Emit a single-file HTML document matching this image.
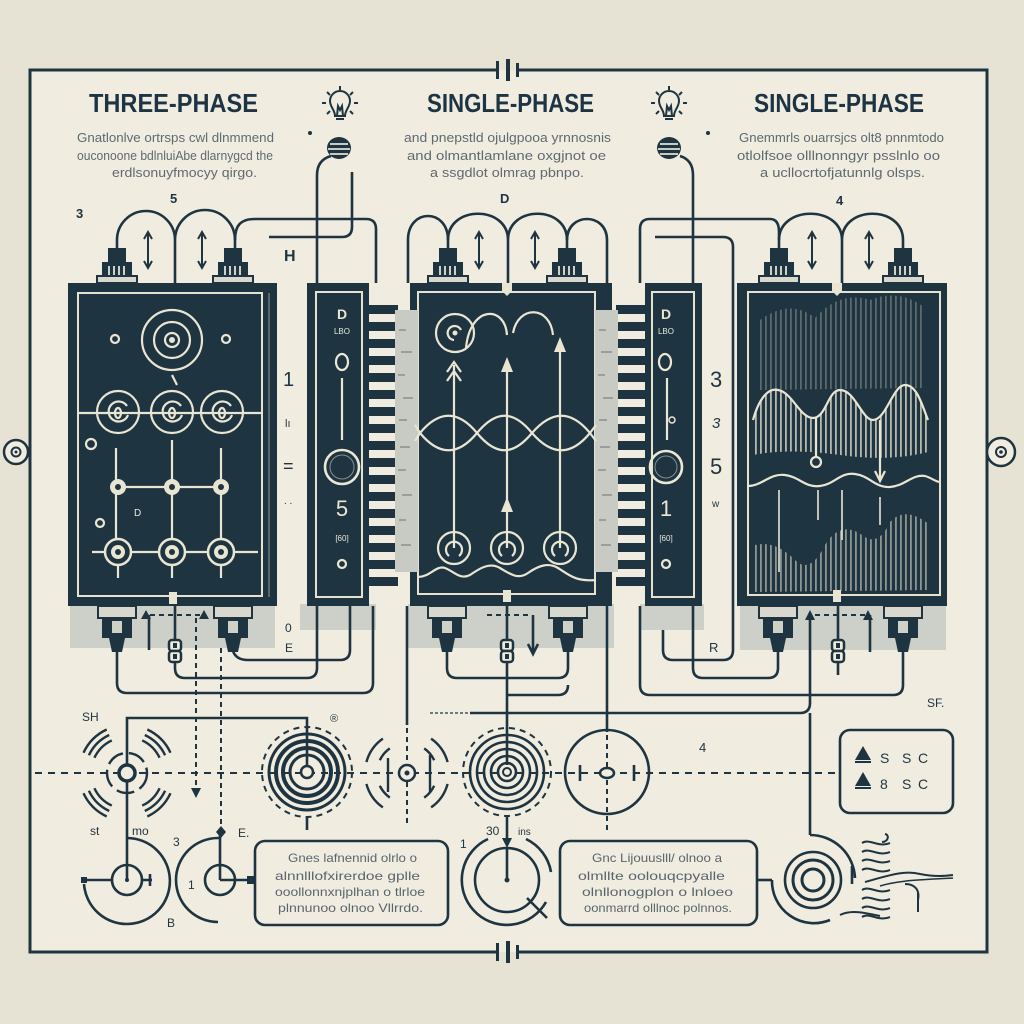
<!DOCTYPE html>
<html><head><meta charset="utf-8"><style>
html,body{margin:0;padding:0;background:#e7e3d4;}
svg{display:block;}
text{font-family:"Liberation Sans",sans-serif;}
</style></head><body>
<svg width="1024" height="1024" viewBox="0 0 1024 1024" xmlns="http://www.w3.org/2000/svg">
<defs>
<pattern id="vs" width="5" height="10" patternUnits="userSpaceOnUse"><rect width="1.8" height="10" fill="#e9e5d3"/></pattern>
<g id="capT">
  <rect x="-9" y="-35" width="18" height="15" fill="#1f3441"/>
  <rect x="-15" y="-21" width="30" height="15" fill="#1f3441"/>
  <rect x="-9" y="-17" width="2" height="9" fill="#cfd0c6"/>
  <rect x="-4" y="-17" width="2" height="9" fill="#cfd0c6"/>
  <rect x="1" y="-17" width="2" height="9" fill="#cfd0c6"/>
  <rect x="6" y="-17" width="2" height="9" fill="#cfd0c6"/>
  <rect x="-20" y="-7" width="40" height="7" fill="#d8d8cf" stroke="#1f3441" stroke-width="2"/>
</g>
<g id="capB">
  <rect x="-19" y="0" width="38" height="12" fill="#d8d8cf" stroke="#1f3441" stroke-width="2"/>
  <rect x="-15" y="12" width="30" height="20" fill="#1f3441"/>
  <rect x="-5" y="15" width="10" height="12" fill="#cfd0c6"/>
  <path d="M-8,32 L8,32 L5,46 L-5,46 Z" fill="#1f3441"/>
</g>
<g id="darr"><path d="M0,-18 V18 M-4,-11 L0,-18 L4,-11 M-4,11 L0,18 L4,11" stroke="#1f3441" stroke-width="2" fill="none"/></g>
<g id="conn"><rect x="-6" y="0" width="12" height="11" rx="3" fill="#efebdd" stroke="#1f3441" stroke-width="2.5"/><rect x="-6" y="11" width="12" height="11" rx="3" fill="#efebdd" stroke="#1f3441" stroke-width="2.5"/><rect x="-2" y="3" width="4" height="5" fill="#1f3441"/><rect x="-2" y="14" width="4" height="5" fill="#1f3441"/></g>
<g id="dome"><ellipse cx="0" cy="0" rx="12" ry="11" fill="#1f3441"/><path d="M-9,-4 H9 M-11,1 H11 M-9,6 H9" stroke="#c9cbc2" stroke-width="2"/></g>
<g id="bulb" fill="none" stroke="#1f3441" stroke-width="2">
  <path d="M-5,10 C-5,4 -10,1 -10,-5 A10,10 0 1 1 10,-5 C10,1 5,4 5,10 Z"/>
  <path d="M-4,13 H4 M-3,10 L-2,0 L0,4 L2,0 L3,10"/>
  <path d="M0,-20 V-16 M-13,-14 L-10,-11 M13,-14 L10,-11 M-18,-3 H-14 M18,-3 H14 M-13,8 L-10,5 M13,8 L10,5"/>
</g>
</defs>

<rect width="1024" height="1024" fill="#e7e3d4"/>
<rect x="30" y="70" width="957" height="882" fill="#f0ecdf"/>

<!-- frame -->
<g stroke="#1f3441" stroke-width="3" fill="none">
<path d="M497,70 H30 V952 H497"/>
<path d="M517,70 H987 V952 H517"/>
</g>
<g fill="#1f3441">
<rect x="496" y="61" width="3" height="18"/>
<rect x="506" y="59" width="4" height="22"/>
<rect x="516" y="63" width="3" height="14"/>
<rect x="496" y="943" width="3" height="18"/>
<rect x="506" y="941" width="4" height="22"/>
<rect x="516" y="945" width="3" height="14"/>
</g>
<circle cx="16" cy="452" r="12" fill="#f0ecdf" stroke="#1f3441" stroke-width="2.5"/>
<circle cx="16" cy="452" r="4.5" fill="none" stroke="#1f3441" stroke-width="2"/>
<circle cx="16" cy="452" r="1.5" fill="#1f3441"/>
<circle cx="1001" cy="452" r="14" fill="#f0ecdf" stroke="#1f3441" stroke-width="2.5"/>
<circle cx="1001" cy="452" r="5" fill="none" stroke="#1f3441" stroke-width="2"/>
<circle cx="1001" cy="452" r="1.8" fill="#1f3441"/>

<!-- titles -->
<g font-weight="bold" font-size="26" fill="#1c3444">
<text x="89" y="112" textLength="169" lengthAdjust="spacingAndGlyphs">THREE-PHASE</text>
<text x="427" y="112" textLength="167" lengthAdjust="spacingAndGlyphs">SINGLE-PHASE</text>
<text x="754" y="112" textLength="170" lengthAdjust="spacingAndGlyphs">SINGLE-PHASE</text>
</g>
<g font-size="13" fill="#5e6a72">
<text x="77" y="142" textLength="197" lengthAdjust="spacingAndGlyphs">Gnatlonlve ortrsps cwl dlnmmend</text>
<text x="77" y="160" textLength="196" lengthAdjust="spacingAndGlyphs">ouconoone bdlnluiAbe dlarnygcd the</text>
<text x="112" y="177" textLength="145" lengthAdjust="spacingAndGlyphs">erdlsonuyfmocyy qirgo.</text>
<text x="404" y="142" textLength="207" lengthAdjust="spacingAndGlyphs">and pnepstld ojulgpooa yrnnosnis</text>
<text x="407" y="160" textLength="199" lengthAdjust="spacingAndGlyphs">and olmantlamlane oxgjnot oe</text>
<text x="430" y="177" textLength="154" lengthAdjust="spacingAndGlyphs">a ssgdlot olmrag pbnpo.</text>
<text x="739" y="142" textLength="205" lengthAdjust="spacingAndGlyphs">Gnemmrls ouarrsjcs olt8 pnnmtodo</text>
<text x="737" y="160" textLength="203" lengthAdjust="spacingAndGlyphs">otlolfsoe olllnonngyr psslnlo oo</text>
<text x="760" y="177" textLength="165" lengthAdjust="spacingAndGlyphs">a ucllocrtofjatunnlg olsps.</text>
</g>

<!-- bulbs -->
<use href="#bulb" transform="translate(340,106)"/>
<use href="#bulb" transform="translate(669,106)"/>
<use href="#dome" transform="translate(339,148)"/>
<use href="#dome" transform="translate(669,148)"/>
<circle cx="310" cy="133" r="2" fill="#1f3441"/>
<circle cx="708" cy="133" r="2" fill="#1f3441"/>

<!-- top wires -->
<g stroke="#1f3441" stroke-width="2.6" fill="none">
<path d="M331,156 Q317,160 317,175 V283"/>
<path d="M680,156 Q693,160 693,175 V283"/>
<path d="M352,172 V227 Q352,237 342,237 H269"/>
<path d="M655,237 H723 Q733,237 733,247 V650 Q733,660 723,660 H673 Q663,660 663,650 V606"/>
<path d="M117,248 V240 A29,29 0 0 1 175,240 A30,30 0 0 1 235,240 V248"/>
<path d="M175,240 V283"/>
<path d="M235,240 C235,226 240,219 255,219 H366 Q376,219 376,229 V283"/>
<path d="M408,283 V240 C408,208 448,208 448,240 V248"/>
<path d="M448,240 C448,205 508,205 508,240 C508,205 567,205 567,240 V248"/>
<path d="M567,240 C567,212 607,212 607,240 V283"/>
<path d="M508,240 V283"/>
<path d="M640,283 V229 Q640,219 650,219 H770 Q779,219 779,232 V248"/>
<path d="M779,240 C779,205 842,205 842,240 C842,205 903,205 903,240 V248"/>
<path d="M842,240 V283"/>
</g>
<use href="#darr" transform="translate(148,250)"/>
<use href="#darr" transform="translate(202,250)"/>
<use href="#darr" transform="translate(479,250)"/>
<use href="#darr" transform="translate(535,250)"/>
<use href="#darr" transform="translate(812,250)"/>
<use href="#darr" transform="translate(869,250)"/>

<g fill="#1f3441" font-size="13" font-weight="bold">
<text x="76" y="218">3</text>
<text x="170" y="203">5</text>
<text x="500" y="203">D</text>
<text x="836" y="205">4</text>
<text x="284" y="261" font-size="16">H</text>
</g>

<!-- top caps -->
<use href="#capT" transform="translate(117,283)"/>
<use href="#capT" transform="translate(233,283)"/>
<use href="#capT" transform="translate(448,283)"/>
<use href="#capT" transform="translate(567,283)"/>
<use href="#capT" transform="translate(779,283)"/>
<use href="#capT" transform="translate(903,283)"/>

<!-- shadows -->
<g fill="#cdd0c8">
<rect x="70" y="604" width="205" height="44"/>
<rect x="300" y="604" width="76" height="26"/>
<rect x="408" y="604" width="206" height="44"/>
<rect x="640" y="604" width="64" height="26"/>
<rect x="740" y="604" width="206" height="46"/>
</g>

<!-- teeth -->
<g fill="#1f3441">
<rect x="366" y="305" width="32" height="9"/><rect x="366" y="322" width="32" height="9"/><rect x="366" y="339" width="32" height="9"/><rect x="366" y="356" width="32" height="9"/><rect x="366" y="373" width="32" height="9"/><rect x="366" y="390" width="32" height="9"/><rect x="366" y="407" width="32" height="9"/><rect x="366" y="424" width="32" height="9"/><rect x="366" y="441" width="32" height="9"/><rect x="366" y="458" width="32" height="9"/><rect x="366" y="475" width="32" height="9"/><rect x="366" y="492" width="32" height="9"/><rect x="366" y="509" width="32" height="9"/><rect x="366" y="526" width="32" height="9"/><rect x="366" y="543" width="32" height="9"/><rect x="366" y="560" width="32" height="9"/><rect x="366" y="577" width="32" height="9"/>
<rect x="616" y="305" width="32" height="9"/><rect x="616" y="322" width="32" height="9"/><rect x="616" y="339" width="32" height="9"/><rect x="616" y="356" width="32" height="9"/><rect x="616" y="373" width="32" height="9"/><rect x="616" y="390" width="32" height="9"/><rect x="616" y="407" width="32" height="9"/><rect x="616" y="424" width="32" height="9"/><rect x="616" y="441" width="32" height="9"/><rect x="616" y="458" width="32" height="9"/><rect x="616" y="475" width="32" height="9"/><rect x="616" y="492" width="32" height="9"/><rect x="616" y="509" width="32" height="9"/><rect x="616" y="526" width="32" height="9"/><rect x="616" y="543" width="32" height="9"/><rect x="616" y="560" width="32" height="9"/><rect x="616" y="577" width="32" height="9"/>
</g>

<!-- panels -->
<g fill="#1f3441">
<rect x="68" y="283" width="209" height="323"/>
<rect x="307" y="283" width="62" height="323"/>
<rect x="410" y="283" width="202" height="323"/>
<rect x="645" y="283" width="57" height="323"/>
<rect x="737" y="283" width="210" height="323"/>
</g>
<g fill="none" stroke="#e6e2d0" stroke-width="2">
<rect x="78" y="293" width="184" height="303"/>
<path d="M269,293 V597" stroke-width="1" opacity="0.6"/>
<rect x="316" y="292" width="46" height="305"/>
<rect x="418" y="292" width="177" height="302"/>
<rect x="652" y="292" width="42" height="305"/>
<rect x="748" y="292" width="192" height="303"/>
</g>
<!-- gray strips -->
<rect x="395" y="310" width="23" height="262" fill="#c8cbc3"/>
<rect x="595" y="310" width="23" height="262" fill="#c8cbc3"/>
<g stroke="#7b8588" stroke-width="1.2">
<path d="M399,330 H406 M401,352 H412 M398,375 H405 M403,398 H413 M399,420 H407 M400,447 H410 M398,470 H406 M402,495 H412 M399,520 H406 M401,545 H411"/>
<path d="M599,330 H606 M601,352 H612 M598,375 H605 M603,398 H613 M599,420 H607 M600,447 H610 M598,470 H606 M602,495 H612 M599,520 H606 M601,545 H611"/>
</g>

<!-- notches/knobs -->
<g fill="#e9e5d3">
<rect x="169" y="592" width="8" height="12"/>
<path d="M502,283 H512 V291 L507,296 L502,291 Z"/>
<rect x="503" y="590" width="8" height="12"/>
<path d="M832,283 H842 V291 L837,296 L832,291 Z"/>
<rect x="833" y="590" width="8" height="12"/>
</g>

<!-- panel A content -->
<g stroke="#e9e5d3" stroke-width="2.2" fill="none">
<circle cx="172" cy="340" r="30"/>
<circle cx="172" cy="340" r="18"/>
<circle cx="172" cy="340" r="7"/>
<circle cx="115" cy="339" r="4"/>
<circle cx="226" cy="339" r="4"/>
<path d="M172,375 L177,385"/>
<path d="M78,413 H262"/>
<circle cx="118" cy="412" r="21"/>
<circle cx="172" cy="412" r="21"/>
<circle cx="222" cy="412" r="21"/>
<path d="M127,406 A10,10 0 1 0 128,415"/><ellipse cx="118" cy="413" rx="3" ry="5"/>
<path d="M181,406 A10,10 0 1 0 182,415"/><ellipse cx="172" cy="413" rx="3" ry="5"/>
<path d="M231,406 A10,10 0 1 0 232,415"/><ellipse cx="222" cy="413" rx="3" ry="5"/>
<circle cx="91" cy="444" r="5"/>
<path d="M116,448 V540 M172,440 V540 M221,448 V540 M116,487 H221 M92,552 H258"/>
<circle cx="100" cy="523" r="4"/>
<path d="M118,565 V578 M172,565 V578 M221,565 V578"/>
</g>
<circle cx="172" cy="340" r="3" fill="#e9e5d3"/>
<g fill="#e9e5d3">
<circle cx="118" cy="487" r="8"/><circle cx="172" cy="487" r="8"/><circle cx="221" cy="487" r="8"/>
</g>
<g fill="#1f3441" stroke="#e9e5d3" stroke-width="2.5">
<circle cx="118" cy="552" r="13"/><circle cx="172" cy="552" r="13"/><circle cx="221" cy="552" r="13"/>
</g>
<g fill="#e9e5d3">
<circle cx="118" cy="552" r="7"/><circle cx="172" cy="552" r="7"/><circle cx="221" cy="552" r="7"/>
</g>
<g fill="#1f3441">
<circle cx="118" cy="487" r="3"/><circle cx="172" cy="487" r="3"/><circle cx="221" cy="487" r="3"/>
<circle cx="118" cy="552" r="3"/><circle cx="172" cy="552" r="3"/><circle cx="221" cy="552" r="3"/>
</g>
<text x="134" y="516" font-size="10" fill="#e9e5d3">D</text>

<!-- panel B content -->
<g fill="#ebe7d5" text-anchor="middle">
<text x="342" y="319" font-size="14" font-weight="bold">D</text>
<text x="342" y="334" font-size="8">LBO</text>
<text x="342" y="516" font-size="22">5</text>
<text x="342" y="541" font-size="8">[60]</text>
<text x="666" y="319" font-size="14" font-weight="bold">D</text>
<text x="666" y="334" font-size="8">LBO</text>
<text x="666" y="516" font-size="22">1</text>
<text x="666" y="541" font-size="8">[60]</text>
</g>
<g stroke="#ebe7d5" stroke-width="2.2" fill="none">
<ellipse cx="342" cy="362" rx="6" ry="8"/>
<path d="M342,378 V440"/>
<circle cx="342" cy="467" r="17" stroke-width="2.6"/>
<circle cx="342" cy="467" r="12" stroke-width="1" opacity="0.5"/>
<circle cx="342" cy="564" r="4"/>
<ellipse cx="665" cy="362" rx="6" ry="8"/>
<path d="M667,378 V440"/>
<circle cx="672" cy="420" r="3" stroke-width="1.5"/>
<circle cx="666" cy="467" r="16" stroke-width="2.6"/>
<circle cx="666" cy="467" r="11" stroke-width="1" opacity="0.5"/>
<circle cx="666" cy="564" r="4"/>
</g>

<!-- panel C content -->
<g stroke="#e9e5d3" stroke-width="2.2" fill="none">
<circle cx="455" cy="333" r="19"/>
<path d="M461,330 A7,7 0 1 0 454,340"/>
<path d="M466,348 C470,305 505,305 507,335"/>
<path d="M513,333 C518,305 550,305 553,335"/>
<path d="M454,548 V365 M507,548 V362 M560,548 V342"/>
<path d="M447,372 L454,362 L461,372 M447,381 L454,371 L461,381"/>
<path d="M415,425 L420,433 C439,410 458,410 477,433 C496,456 513,456 532,433 C552,410 571,410 590,433 L596,441"/>
<path d="M415,441 L420,433 C439,456 458,456 477,433 C496,410 513,410 532,433 C552,456 571,456 590,433 L596,425"/>
<circle cx="454" cy="548" r="16"/>
<circle cx="507" cy="548" r="16"/>
<circle cx="560" cy="548" r="16"/>
<path d="M449,556 A8,8 0 1 1 459,556 M502,556 A8,8 0 1 1 512,556 M555,556 A8,8 0 1 1 565,556"/>
<path d="M418,577 C430,577 436,565 445,568 C455,572 460,580 470,575 C480,568 490,562 500,568 C510,574 518,580 528,573 C538,566 548,562 558,568 C568,574 575,582 596,580"/>
</g>
<g fill="#e9e5d3">
<path d="M501,372 L507,357 L513,372 Z"/>
<path d="M554,352 L560,337 L566,352 Z"/>
<path d="M501,512 L507,497 L513,512 Z"/>
<circle cx="455" cy="333" r="2.5"/>
</g>

<!-- panel E content -->
<path d="M760,390 L760,320 Q790,298 815,318 Q840,290 870,300 Q900,288 925,308 L925,388 Z" fill="url(#vs)" opacity="0.3"/>
<path d="M753,420 C760,395 770,388 778,390 C792,392 800,418 813,418 C826,418 828,390 840,390 C855,390 862,420 873,420 C886,420 893,385 905,385 C917,385 922,405 928,420 L928,452 Q890,462 840,455 Q790,448 753,455 Z" fill="url(#vs)" opacity="0.75"/>
<path d="M755,592 L755,545 Q775,540 795,560 Q810,575 825,545 Q840,520 862,535 Q878,548 890,522 Q905,505 930,525 L930,590 Z" fill="url(#vs)" opacity="0.55"/>
<g stroke="#e9e5d3" stroke-width="2.2" fill="none">
<path d="M753,420 C760,395 770,388 778,390 C792,392 800,418 813,418 C826,418 828,390 840,390 C855,390 862,420 873,420 C886,420 893,385 905,385 C917,385 922,405 928,420"/>
<path d="M816,418 V456"/>
<circle cx="816" cy="462" r="5"/>
<path d="M880,420 V480 M875,471 L880,481 L885,471"/>
<path d="M748,486 C762,486 770,473 785,475 C800,477 805,488 820,486 C835,484 840,472 855,474 C870,476 875,488 890,487 C905,486 912,474 925,476 C932,478 936,482 940,482"/>
<path d="M779,490 V572 M818,490 V520 M842,490 V540 M880,497 V525" stroke-width="1.6"/>
</g>

<!-- middle labels -->
<g fill="#1f3441">
<text x="283" y="386" font-size="20">1</text>
<text x="285" y="427" font-size="11">lı</text>
<text x="283" y="472" font-size="18">=</text>
<text x="284" y="504" font-size="10">. .</text>
<text x="710" y="387" font-size="22">3</text>
<text x="712" y="428" font-size="15" font-style="italic">3</text>
<text x="710" y="474" font-size="22">5</text>
<text x="712" y="507" font-size="10">w</text>
</g>

<!-- bottom caps -->
<use href="#capB" transform="translate(117,606)"/>
<use href="#capB" transform="translate(233,606)"/>
<use href="#capB" transform="translate(447,606)"/>
<use href="#capB" transform="translate(568,606)"/>
<use href="#capB" transform="translate(778,606)"/>
<use href="#capB" transform="translate(903,606)"/>

<!-- bottom wires -->
<g stroke="#1f3441" stroke-width="2.6" fill="none">
<path d="M117,651 V683 Q117,693 127,693 H363 Q373,693 373,683 V606"/>
<path d="M175,604 V640 M175,662 V668 Q175,678 185,678 H307 Q317,678 317,668 V606"/>
<path d="M233,651 Q236,660 248,660 H340 Q350,660 350,650 V606"/>
<path d="M149,615 V650"/>
<path d="M447,651 V668 Q447,678 457,678 H558 Q568,678 568,668 V651"/>
<path d="M507,695 H558 Q568,695 568,685"/>
<path d="M507,604 V640 M507,662 V765"/>
<path d="M533,615 V652 M528,644 L533,654 L538,644"/>
<path d="M407,606 V725"/>
<path d="M607,606 V732"/>
<path d="M693,606 V668 Q693,678 703,678 H768 Q778,678 778,668 V651"/>
<path d="M640,606 V685 Q640,695 650,695 H893 Q903,695 903,685 V651"/>
<path d="M838,604 V640 M838,662 V675"/>
<path d="M470,713 H800 Q810,713 810,703 V620"/>
<path d="M810,713 V835"/>
<path d="M870,615 V652"/>
<path d="M127,765 V718 H307 V765"/>
<path d="M127,781 V880"/>
<path d="M507,815 V840"/>
<path d="M220,832 V880"/>
</g>
<path d="M430,713 H468" stroke="#1f3441" stroke-width="1.2" stroke-dasharray="3 2"/>
<g stroke="#1f3441" stroke-width="2" fill="none" stroke-dasharray="5 4">
<path d="M150,615 H200"/>
<path d="M487,615 H532"/>
<path d="M815,615 H866"/>
<path d="M196,618 V792"/>
<path d="M221,648 V828"/>
<path d="M407,728 V825"/>
<path d="M607,735 V830"/>
</g>
<g fill="#1f3441">
<path d="M141,619 L146,610 L151,619 Z"/>
<path d="M199,619 L204,610 L209,619 Z"/>
<path d="M805,620 L810,610 L815,620 Z"/>
<path d="M863,620 L868,610 L873,620 Z"/>
<path d="M191,788 L196,798 L201,788 Z"/>
<path d="M221,826 L226,832 L221,838 L216,832 Z"/>
<path d="M502,838 L507,848 L512,838 Z"/>
</g>
<use href="#conn" transform="translate(175,640)"/>
<use href="#conn" transform="translate(507,640)"/>
<use href="#conn" transform="translate(838,640)"/>

<!-- dashed horizontal -->
<path d="M35,773 H838" stroke="#1f3441" stroke-width="2" stroke-dasharray="7 6" fill="none"/>

<!-- node 1 -->
<g stroke="#1f3441" stroke-width="2.4" fill="none">
<circle cx="127" cy="773" r="20" stroke-dasharray="18 6"/>
<path d="M94.4,757.8 A36,36 0 0 1 111.8,740.4 M88.9,755.2 A42,42 0 0 1 109.2,735 M83.5,752.7 A48,48 0 0 1 106.7,729.5"/>
<path d="M142.2,740.4 A36,36 0 0 1 159.6,757.8 M144.8,735 A42,42 0 0 1 165.1,755.2 M147.3,729.5 A48,48 0 0 1 170.5,752.7"/>
<path d="M111.8,805.6 A36,36 0 0 1 94.4,788.2 M109.2,811 A42,42 0 0 1 88.9,790.8 M106.7,816.5 A48,48 0 0 1 83.5,793.3"/>
<path d="M159.6,788.2 A36,36 0 0 1 142.2,805.6 M165.1,790.8 A42,42 0 0 1 144.8,811 M170.5,793.3 A48,48 0 0 1 147.3,816.5"/>
</g>
<circle cx="127" cy="773" r="8" fill="#f0ecdf" stroke="#1f3441" stroke-width="3.5"/>

<!-- target 1 -->
<circle cx="307" cy="772" r="45" fill="none" stroke="#1f3441" stroke-width="2" stroke-dasharray="6 5"/>
<g stroke="#1f3441" fill="none">
<circle cx="307" cy="772" r="38" stroke-width="3"/>
<circle cx="307" cy="772" r="31" stroke-width="4"/>
<circle cx="307" cy="772" r="24" stroke-width="4"/>
<circle cx="307" cy="772" r="17" stroke-width="3"/>
<path d="M307,817 V830" stroke-width="2.6"/>
</g>
<circle cx="307" cy="772" r="6" fill="#f0ecdf" stroke="#1f3441" stroke-width="2.5"/>

<!-- node 2 -->
<g stroke="#1f3441" stroke-width="2.4" fill="none">
<path d="M366.4,762.1 A42,42 0 0 1 382.9,738.6 M431.1,738.6 A42,42 0 0 1 447.6,762.1 M382.9,807.4 A42,42 0 0 1 366.4,783.9 M447.6,783.9 A42,42 0 0 1 431.1,807.4"/>
<path d="M379.8,760.3 A30,30 0 0 1 389.8,748.4 M424.2,748.4 A30,30 0 0 1 434.2,760.3 M389.8,797.6 A30,30 0 0 1 379.8,785.7 M434.2,785.7 A30,30 0 0 1 424.2,797.6"/>
<path d="M388,758 V792 M430,755 V792"/>
</g>
<circle cx="407" cy="773" r="8" fill="#f0ecdf" stroke="#1f3441" stroke-width="2.5"/>
<circle cx="407" cy="773" r="2.5" fill="#1f3441"/>

<!-- target 2 -->
<circle cx="507" cy="772" r="44" fill="none" stroke="#1f3441" stroke-width="2" stroke-dasharray="6 5"/>
<g stroke="#1f3441" fill="none" stroke-width="2.6">
<circle cx="507" cy="772" r="37"/>
<circle cx="507" cy="772" r="30"/>
<circle cx="507" cy="772" r="23"/>
<circle cx="507" cy="772" r="16"/>
<circle cx="507" cy="772" r="9"/>
</g>
<circle cx="507" cy="772" r="4" fill="#f0ecdf" stroke="#1f3441" stroke-width="2"/>

<!-- crosshair circle -->
<g stroke="#1f3441" stroke-width="2.6" fill="none">
<circle cx="607" cy="772" r="42"/>
<path d="M580,765 V781 M634,765 V781"/>
</g>
<ellipse cx="607" cy="773" rx="7" ry="5" fill="#f0ecdf" stroke="#1f3441" stroke-width="2.5"/>

<!-- right box -->
<rect x="840" y="730" width="113" height="83" rx="10" fill="none" stroke="#1f3441" stroke-width="2.6"/>
<g fill="#1f3441">
<path d="M855,760 L863,746 L871,760 Z"/><rect x="855" y="761" width="16" height="2"/>
<path d="M855,786 L863,772 L871,786 Z"/><rect x="855" y="787" width="16" height="2"/>
<text x="880" y="763" font-size="14">S</text><text x="902" y="763" font-size="14">S</text><text x="918" y="763" font-size="14">C</text>
<text x="880" y="789" font-size="14">8</text><text x="902" y="789" font-size="14">S</text><text x="918" y="789" font-size="14">C</text>
</g>

<!-- labels bottom -->
<g fill="#1f3441" font-size="12">
<text x="285" y="632">0</text>
<text x="285" y="652">E</text>
<text x="709" y="652" font-size="13">R</text>
<text x="927" y="707">SF.</text>
<text x="699" y="752" font-size="13">4</text>
<text x="82" y="721">SH</text>
<text x="330" y="722" font-size="11">®</text>
<text x="90" y="835">st</text>
<text x="132" y="835">mo</text>
<text x="173" y="846">3</text>
<text x="167" y="927">B</text>
<text x="238" y="837">E.</text>
<text x="188" y="889">1</text>
<text x="460" y="848">1</text>
<text x="486" y="835">30</text>
<text x="518" y="835" font-size="10">ins</text>
</g>

<!-- bottom left symbols -->
<g stroke="#1f3441" stroke-width="2.6" fill="none">
<path d="M127,838 A43,43 0 1 1 84,884"/>
<path d="M84,880 H112"/>
<circle cx="127" cy="880" r="15"/>
<path d="M142,880 H152 M150,874 V886"/>
<path d="M218,838 H220 M218,838 A42,42 0 0 0 218,922"/>
<circle cx="220" cy="880" r="15"/>
<path d="M220,880 H248"/>
<path d="M488,839 A45,45 0 1 0 546,902"/>
<path d="M526,839 A45,45 0 0 1 551,872"/>
<circle cx="507" cy="880" r="32"/>
<path d="M507,848 V880 M527,898 L547,918"/>
</g>
<rect x="81" y="877" width="6" height="6" fill="#1f3441"/>
<rect x="247" y="876" width="7" height="8" fill="#1f3441"/>
<circle cx="127" cy="880" r="2" fill="#1f3441"/>
<circle cx="507" cy="880" r="2.5" fill="#1f3441"/>

<!-- text boxes -->
<rect x="255" y="841" width="193" height="84" rx="10" fill="none" stroke="#1f3441" stroke-width="2.6"/>
<rect x="560" y="841" width="197" height="84" rx="10" fill="none" stroke="#1f3441" stroke-width="2.6"/>
<g font-size="12" fill="#59656e">
<text x="288" y="862" textLength="129" lengthAdjust="spacingAndGlyphs">Gnes lafnennid olrlo o</text>
<text x="275" y="880" textLength="145" lengthAdjust="spacingAndGlyphs">alnnlllofxirerdoe gplle</text>
<text x="275" y="896" textLength="150" lengthAdjust="spacingAndGlyphs">ooollonnxnjplhan o tlrloe</text>
<text x="278" y="912" textLength="145" lengthAdjust="spacingAndGlyphs">plnnunoo olnoo Vllrrdo.</text>
<text x="592" y="862" textLength="130" lengthAdjust="spacingAndGlyphs">Gnc Lijouuslll/ olnoo a</text>
<text x="578" y="880" textLength="147" lengthAdjust="spacingAndGlyphs">olmllte oolouqcpyalle</text>
<text x="582" y="896" textLength="151" lengthAdjust="spacingAndGlyphs">olnllonogplon o lnloeo</text>
<text x="584" y="912" textLength="148" lengthAdjust="spacingAndGlyphs">oonmarrd olllnoc polnnos.</text>
</g>

<!-- bottom right spiral -->
<g stroke="#1f3441" stroke-width="2.6" fill="none">
<path d="M757,880 H772"/>
<path d="M810,835 A45,45 0 0 1 855,878"/>
<path d="M852,866 V884"/>
<path d="M772,880 A42,42 0 0 0 830,920"/>
<circle cx="813" cy="880" r="11" stroke-width="3"/>
<circle cx="813" cy="880" r="20" stroke-width="3"/>
<circle cx="813" cy="880" r="28"/>
<g stroke-width="2">
<path d="M862,843 C870,838 878,848 890,843"/>
<path d="M862,852 C870,847 878,857 890,852"/>
<path d="M862,861 C870,856 878,866 890,861"/>
<path d="M862,870 C870,865 878,875 890,870"/>
<path d="M862,890 C870,885 878,895 890,890"/>
<path d="M862,899 C870,894 878,904 890,899"/>
<path d="M862,908 C870,903 878,913 890,908"/>
<path d="M862,917 C870,912 878,922 890,917"/>
<path d="M840,915 C850,910 862,912 880,916"/>
<path d="M865,882 C890,875 905,870 920,874 C935,877 945,876 953,875"/>
<path d="M880,886 C900,880 920,880 953,878" stroke-width="1.5"/>
<path d="M905,884 C915,884 920,890 918,900 M918,893 V912"/>
<path d="M882,842 C888,842 890,835 885,834"/>
</g>
</g>
</svg>
</body></html>
